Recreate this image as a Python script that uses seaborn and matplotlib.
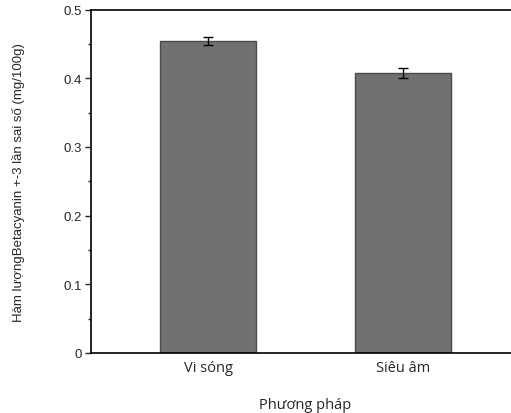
import matplotlib
matplotlib.use("Agg")
import matplotlib.pyplot as plt
import seaborn as sns
import pandas as pd
from matplotlib.ticker import MultipleLocator, FuncFormatter

methods = ["Vi sóng", "Siêu âm"]
means = [0.454, 0.4075]
errors = [0.006, 0.0073]

df = pd.DataFrame({"method": methods, "value": means})

sns.set_style("ticks")
plt.rcParams["font.family"] = ["Liberation Sans", "DejaVu Sans"]

fig = plt.figure(figsize=(5.11, 4.14), dpi=100)
ax = fig.add_axes([91 / 511, 60 / 414, 429 / 511, 343.5 / 414])

sns.barplot(data=df, x="method", y="value", color="#717171", saturation=1,
            width=0.49, edgecolor="#4a4a4a", linewidth=1, errorbar=None, ax=ax)
ax.errorbar(range(len(methods)), means, yerr=errors, fmt="none",
            ecolor="black", elinewidth=1, capsize=3.6, capthick=1)

ax.set_xlim(-0.6, 1.6)
ax.set_ylim(0, 0.5)
ax.yaxis.set_major_locator(MultipleLocator(0.1))
ax.yaxis.set_minor_locator(MultipleLocator(0.05))
ax.yaxis.set_major_formatter(FuncFormatter(lambda v, p: "%g" % round(v, 2)))

for s in ["left", "bottom", "top"]:
    ax.spines[s].set_visible(True)
    ax.spines[s].set_linewidth(1.2)
    ax.spines[s].set_color("black")
ax.spines["right"].set_visible(False)

ax.tick_params(axis="y", which="major", direction="out", length=4.5, width=1,
               labelsize=9.5, pad=2)
ax.tick_params(axis="y", which="minor", direction="out", length=2.2, width=1)
ax.tick_params(axis="x", length=0, pad=5)
for lab in ax.get_xticklabels():
    lab.set_fontfamily(["Open Sans", "DejaVu Sans"])
    lab.set_fontsize(10.5)

ax.set_xlabel("Phương pháp", fontsize=10.5, family=["Open Sans", "DejaVu Sans"],
              labelpad=16)
ax.set_ylabel("Hàm lượngBetacyanin +-3 lần sai số (mg/100g)", fontsize=9.5,
              family=["Liberation Sans Narrow", "Liberation Sans", "DejaVu Sans"],
              labelpad=28)

fig.savefig("out.png", dpi=100)
